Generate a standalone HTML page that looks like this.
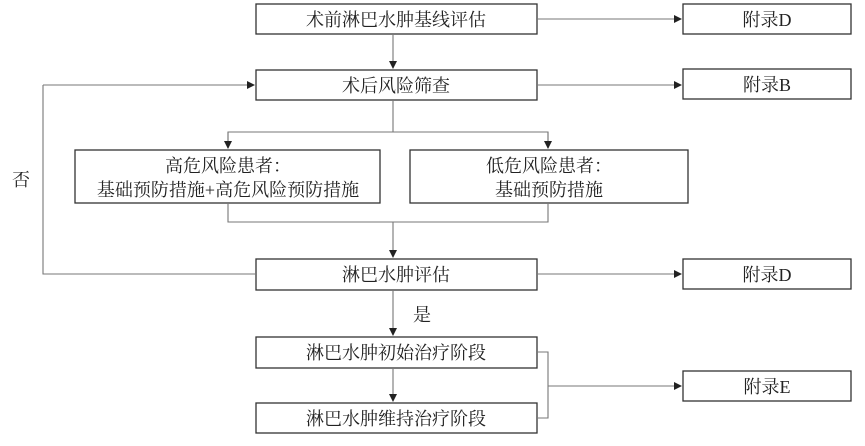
<!DOCTYPE html>
<html><head><meta charset="utf-8"><style>
body{margin:0;background:#fff;width:865px;height:441px;overflow:hidden}
svg text{font-family:"Liberation Serif","Noto Serif CJK SC",serif;font-size:18px;fill:#222}
</style></head><body>
<svg width="865" height="441" viewBox="0 0 865 441">
<defs><marker id="a" markerWidth="8" markerHeight="8" refX="7" refY="4" orient="auto" markerUnits="userSpaceOnUse"><path d="M0,0 L8,4 L0,8z" fill="#222"/></marker></defs>
<g fill="none" stroke="#333" stroke-width="1.3">
<rect x="256" y="4" width="281" height="30"/>
<rect x="256" y="70" width="281" height="30"/>
<rect x="75" y="150" width="305" height="53"/>
<rect x="410" y="150" width="278" height="53"/>
<rect x="256" y="259" width="281" height="31"/>
<rect x="256" y="337" width="281" height="31"/>
<rect x="256" y="403" width="281" height="30"/>
<rect x="683" y="4" width="168" height="30"/>
<rect x="683" y="69" width="168" height="30"/>
<rect x="683" y="259" width="168" height="30"/>
<rect x="683" y="371" width="168" height="30"/>
</g>
<g fill="none" stroke="#777" stroke-width="1.1">
<line x1="393" y1="34" x2="393" y2="68" marker-end="url(#a)"/>
<line x1="537" y1="19" x2="681" y2="19" marker-end="url(#a)"/>
<line x1="537" y1="85" x2="681" y2="85" marker-end="url(#a)"/>
<line x1="537" y1="274" x2="681" y2="274" marker-end="url(#a)"/>
<path d="M393,100 V132"/>
<path d="M228,148 V132 H548 V148" />
<line x1="228" y1="132" x2="228" y2="148" marker-end="url(#a)"/>
<line x1="548" y1="132" x2="548" y2="148" marker-end="url(#a)"/>
<path d="M228,203 V222 H548 V203"/>
<line x1="393" y1="222" x2="393" y2="257" marker-end="url(#a)"/>
<path d="M256,274 H43 V85"/>
<line x1="43" y1="85" x2="254" y2="85" marker-end="url(#a)"/>
<line x1="393" y1="290" x2="393" y2="335" marker-end="url(#a)"/>
<line x1="393" y1="368" x2="393" y2="401" marker-end="url(#a)"/>
<path d="M537,352 H548 V418 H537"/>
<line x1="548" y1="386" x2="681" y2="386" marker-end="url(#a)"/>
</g>
<g text-anchor="middle">
<text x="396" y="26">术前淋巴水肿基线评估</text>
<text x="396" y="92">术后风险筛查</text>
<text x="228" y="172">高危风险患者：</text>
<text x="228" y="196">基础预防措施+高危风险预防措施</text>
<text x="549" y="172">低危风险患者：</text>
<text x="549" y="196">基础预防措施</text>
<text x="396" y="281">淋巴水肿评估</text>
<text x="396" y="359">淋巴水肿初始治疗阶段</text>
<text x="396" y="425">淋巴水肿维持治疗阶段</text>
<text x="767" y="26">附录D</text>
<text x="767" y="91">附录B</text>
<text x="767" y="281">附录D</text>
<text x="767" y="393">附录E</text>
<text x="21" y="186">否</text>
<text x="422" y="321">是</text>
</g>
</svg>
</body></html>
